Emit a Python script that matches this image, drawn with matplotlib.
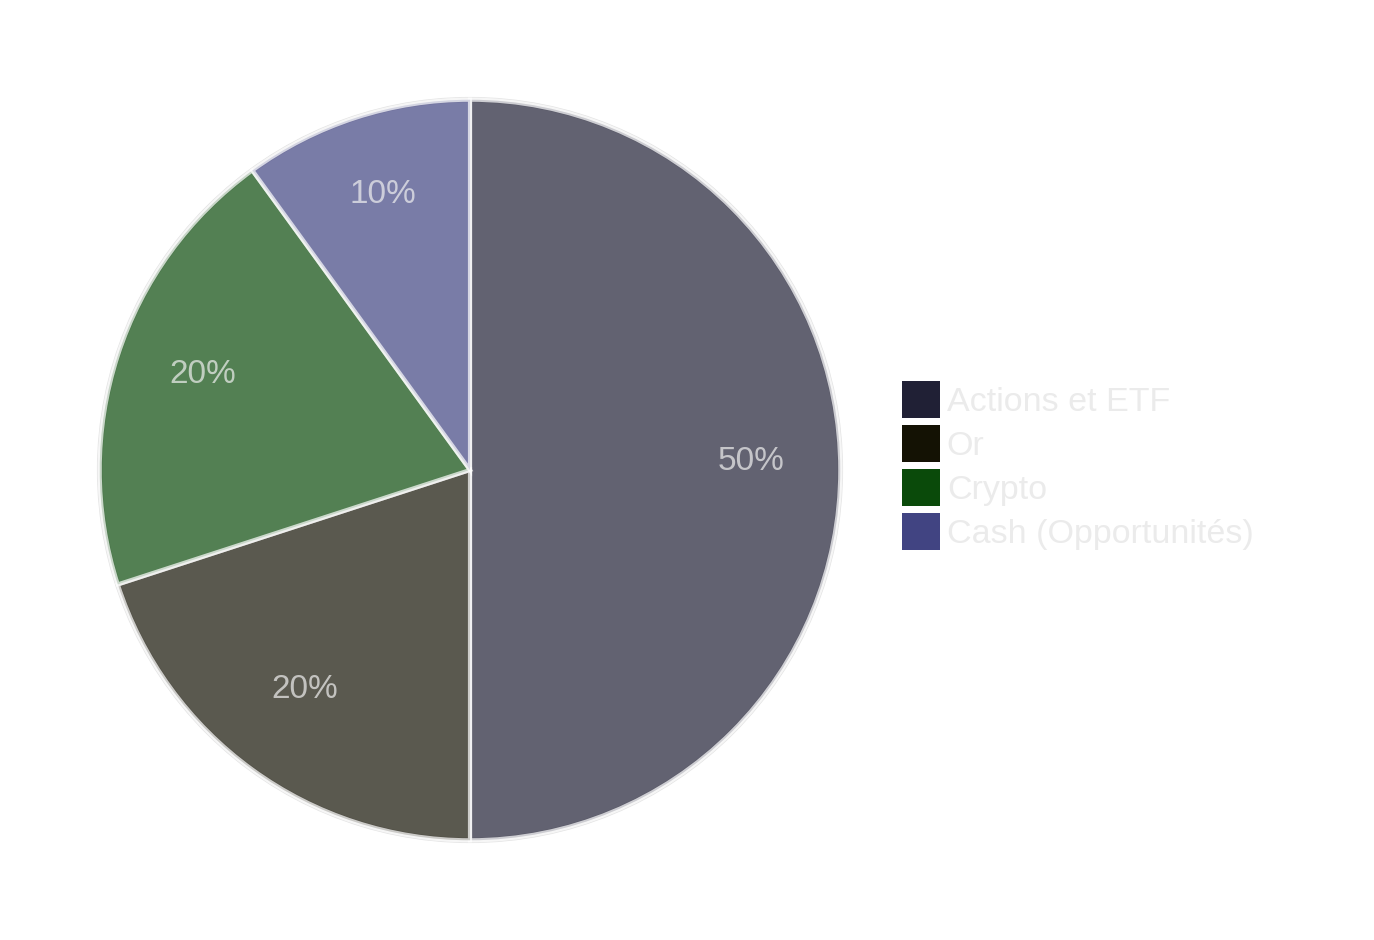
import matplotlib.pyplot as plt
from matplotlib.patches import Patch, Circle

plt.rcParams['font.family'] = ['Liberation Sans', 'DejaVu Sans']

# Data
labels = ['Actions et ETF', 'Or', 'Crypto', 'Cash (Opportunités)']
values = [50, 20, 20, 10]
colors = ['#202035', '#141204', '#0a4a0a', '#414482']

fig = plt.figure(figsize=(13.74, 9.4), dpi=100)
ax = fig.add_axes([96 / 1374, 96 / 940, 748 / 1374, 748 / 940])

wedges, texts, autotexts = ax.pie(
    values, colors=colors, startangle=90, counterclock=False,
    autopct='%1.0f%%', pctdistance=0.76,
    wedgeprops={'alpha': 0.7, 'edgecolor': 'white', 'linewidth': 3},
    textprops={'fontsize': 24, 'color': '#f0f0f0', 'alpha': 0.7},
)
# soft grey rim round the pie
ax.add_patch(Circle((0, 0), 1.0, fill=False, edgecolor='#e4e4e4', linewidth=4, zorder=0))

# labels sit a little higher than the wedge centre line
for t in autotexts:
    x, y = t.get_position()
    t.set_position((x, y + 0.022))

ax.set_xlim(-1.01, 1.01)
ax.set_ylim(-1.01, 1.01)
ax.set_aspect('equal')
ax.axis('off')

handles = [Patch(facecolor=c, edgecolor='none') for c in colors]
fig.legend(handles, labels, loc='center left', bbox_to_anchor=(0.6438, 0.505),
           frameon=False, fontsize=24.5, labelcolor='#ebebeb',
           handlelength=1.13, handleheight=1.3, handletextpad=0.2,
           labelspacing=0.2, borderpad=0)

fig.savefig('out.png', dpi=100)
